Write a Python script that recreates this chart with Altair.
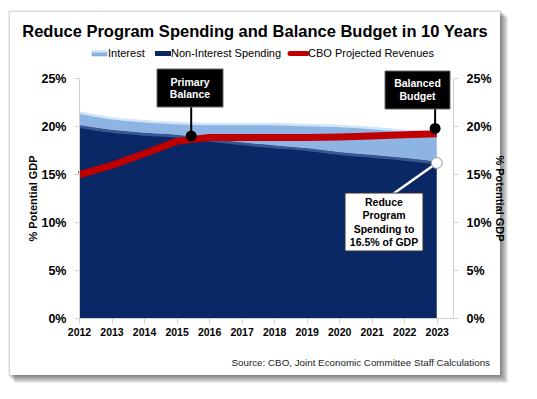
import altair as alt
import pandas as pd

# ---------------- data ----------------
years = [2012, 2013, 2014, 2015, 2016, 2017, 2018, 2019, 2020, 2021, 2022, 2023]
non_interest = [20.1, 19.6, 19.3, 19.1, 18.7, 18.3, 18.0, 17.7, 17.3, 17.0, 16.7, 16.3]
interest = [1.3, 1.2, 1.2, 1.2, 1.5, 1.9, 2.2, 2.4, 2.7, 2.8, 2.8, 3.0]
revenues = [14.9, 15.9, 17.1, 18.4, 18.8, 18.8, 18.8, 18.8, 18.85, 18.95, 19.1, 19.2]

y_ticks = [0, 5, 10, 15, 20, 25]

annot_years = [2015.45, 2022.95, 2023.0]
annot_values = [18.95, 19.75, 16.15]

title_text = "Reduce Program Spending and Balance Budget in 10 Years"
legend_labels = ["Interest", "Non-Interest Spending", "CBO Projected Revenues"]
source_text = "Source:  CBO, Joint Economic Committee Staff Calculations"
y_title = "% Potential GDP"

# ---------------- styling ----------------
FONT = "Liberation Sans, Arial, sans-serif"
NAVY = "#0A2766"
LIGHT = "#8DB4E2"
LIGHTER = "#D3E6F8"
RED = "#C00000"
W, H = 374, 240

df = pd.DataFrame({"year": years, "non_interest": non_interest,
                   "interest": interest, "revenues": revenues})
df["total"] = df["non_interest"] + df["interest"]
one = pd.DataFrame({"k": [0]})
ann = pd.DataFrame({"year": annot_years, "value": annot_values})

xs = alt.Scale(domain=[2012, 2023.5], nice=False, zero=False)
ys = alt.Scale(domain=[0, 25], nice=False)

x_axis = alt.Axis(values=years, format="d", title=None, grid=False,
                  domainColor="#d0d0d0", tickColor="#d0d0d0", tickSize=5,
                  labelFont=FONT, labelFontWeight="bold", labelFontSize=10.5,
                  labelColor="black", labelPadding=4, labelFlush=False,
                  labelOverlap=False, zindex=1)


def X():
    return alt.X("year:Q", scale=xs, axis=x_axis)


def y_axis(orient, tpad):
    return alt.Axis(orient=orient, values=y_ticks, labelExpr="datum.value + '%'",
                    title=y_title, grid=False, domainColor="#d0d0d0",
                    tickColor="#d0d0d0", tickSize=5, labelFont=FONT,
                    labelFontWeight="bold", labelFontSize=12.5, labelColor="black",
                    labelPadding=8, titleFont=FONT, titleFontSize=11,
                    titleFontWeight="bold", titleColor="black", titlePadding=tpad,
                    labelOverlap=False, zindex=1)


base = alt.Chart(df)

# ---------------- decoration: panel with shadow ----------------
px0, py0, px1, py1 = -69, -66, 421, 297
shadow_layers = []
for i in range(1, 9):
    shadow_layers.append(
        alt.Chart(one).mark_rect(color="black", opacity=0.075).encode(
            x=alt.value(px0 + i - 3), x2=alt.value(px1 + i),
            y=alt.value(py0 + i - 3), y2=alt.value(py1 + i))
    )
panel = alt.Chart(one).mark_rect(color="white").encode(
    x=alt.value(px0), x2=alt.value(px1), y=alt.value(py0), y2=alt.value(py1))

# ---------------- data marks ----------------
nonint_area = base.mark_area(color=NAVY, interpolate="monotone").encode(
    x=X(), y=alt.Y("non_interest:Q", scale=ys, axis=y_axis("left", 2)))
interest_area = base.mark_area(color=LIGHT, interpolate="monotone").encode(
    x=X(), y=alt.Y("total:Q", scale=ys, axis=None), y2="non_interest:Q")
top_edge = base.mark_line(color=LIGHTER, strokeWidth=2.5, interpolate="monotone").encode(
    x=X(), y=alt.Y("total:Q", scale=ys, axis=None))
boundary = base.mark_line(color="#5878B0", strokeWidth=3, opacity=0.6,
                          interpolate="monotone", yOffset=1.5).encode(
    x=X(), y=alt.Y("non_interest:Q", scale=ys, axis=None))
rev_line = base.mark_line(color=RED, strokeWidth=7, strokeCap="butt").encode(
    x=X(), y=alt.Y("revenues:Q", scale=ys, axis=y_axis("right", 2.5)))

# ---------------- annotations ----------------


def box(x0, x1, y0, y1, fill, stroke):
    return alt.Chart(one).mark_rect(color=fill, stroke=stroke, strokeWidth=1).encode(
        x=alt.value(x0), x2=alt.value(x1), y=alt.value(y0), y2=alt.value(y1))


def YV():
    return alt.Y("value:Q", scale=ys, axis=None)


conn1 = alt.Chart(ann.iloc[[0]]).mark_rule(color="black", strokeWidth=2).encode(
    x=X(), y=YV(), y2=alt.value(29))
conn2 = alt.Chart(ann.iloc[[1]]).mark_rule(color="black", strokeWidth=2).encode(
    x=X(), y=YV(), y2=alt.value(31))
conn3 = alt.Chart(ann.iloc[[2]]).mark_rule(color="white", strokeWidth=2.5).encode(
    x=X(), y=YV(), x2=alt.value(314), y2=alt.value(116))
box1 = box(78, 144, -9, 29, "black", "#666666")
box2 = box(306, 371, -7, 31, "black", "#666666")
box3 = box(266, 344, 115, 173, "white", "#333333")
dots_black = alt.Chart(ann.iloc[:2]).mark_circle(color="black", size=120, opacity=1).encode(
    x=X(), y=YV())
dot_white = alt.Chart(ann.iloc[2:]).mark_point(filled=True, fill="white", stroke="#999999",
                                               strokeWidth=1, size=120, opacity=1).encode(
    x=X(), y=YV())


def label(txt, x, y, size, color="black", weight="bold", align="center", lh=13):
    return alt.Chart(one).mark_text(text=txt, font=FONT, fontSize=size, fontWeight=weight,
                                    color=color, align=align, baseline="middle",
                                    lineBreak="\n", lineHeight=lh).encode(
        x=alt.value(x), y=alt.value(y))


t1 = label("Primary\nBalance", 111, 4.7, 10.5, "white", lh=12.5)
t2 = label("Balanced\nBudget", 338.5, 6, 10.5, "white", lh=13.3)
t3 = label("Reduce\nProgram\nSpending to\n16.5% of GDP", 305, 124.7, 10.5, "black", lh=13.5)

# ---------------- title, legend, source ----------------
title = label(title_text, 176, -46, 16.5)
leg_sw1 = alt.Chart(one).mark_rect(color=LIGHT, stroke="#6E98CC", strokeWidth=0.5).encode(
    x=alt.value(13), x2=alt.value(28), y=alt.value(-27), y2=alt.value(-22))
leg_sw1b = alt.Chart(one).mark_rect(color=LIGHTER).encode(
    x=alt.value(13), x2=alt.value(28), y=alt.value(-27), y2=alt.value(-25.5))
leg_sw2 = alt.Chart(one).mark_rect(color=NAVY).encode(
    x=alt.value(76), x2=alt.value(92), y=alt.value(-27), y2=alt.value(-22))
leg_sw3 = alt.Chart(one).mark_rule(color=RED, strokeWidth=5, strokeCap="round").encode(
    x=alt.value(211), x2=alt.value(228), y=alt.value(-24.5))
leg_t1 = label(legend_labels[0], 29, -24, 11, weight="normal", align="left")
leg_t2 = label(legend_labels[1], 92, -24, 11, weight="normal", align="left")
leg_t3 = label(legend_labels[2], 229, -24, 11, weight="normal", align="left")
source = label(source_text, 411, 285, 9.8, color="#222222", weight="normal", align="right")

chart = alt.layer(
    *shadow_layers, panel,
    nonint_area, interest_area, top_edge, boundary, rev_line,
    conn1, conn2, conn3, box1, box2, box3, dots_black, dot_white, t1, t2, t3,
    title, leg_sw1, leg_sw1b, leg_sw2, leg_sw3, leg_t1, leg_t2, leg_t3, source,
).resolve_axis(y="independent").properties(
    width=W, height=H,
    autosize=alt.AutoSizeParams(type="none"),
    padding={"left": 71, "top": 70, "right": 76, "bottom": 73},
    background="white",
).configure_view(stroke=None)

chart.save("out.html", embed_options={"renderer": "svg", "actions": False})
